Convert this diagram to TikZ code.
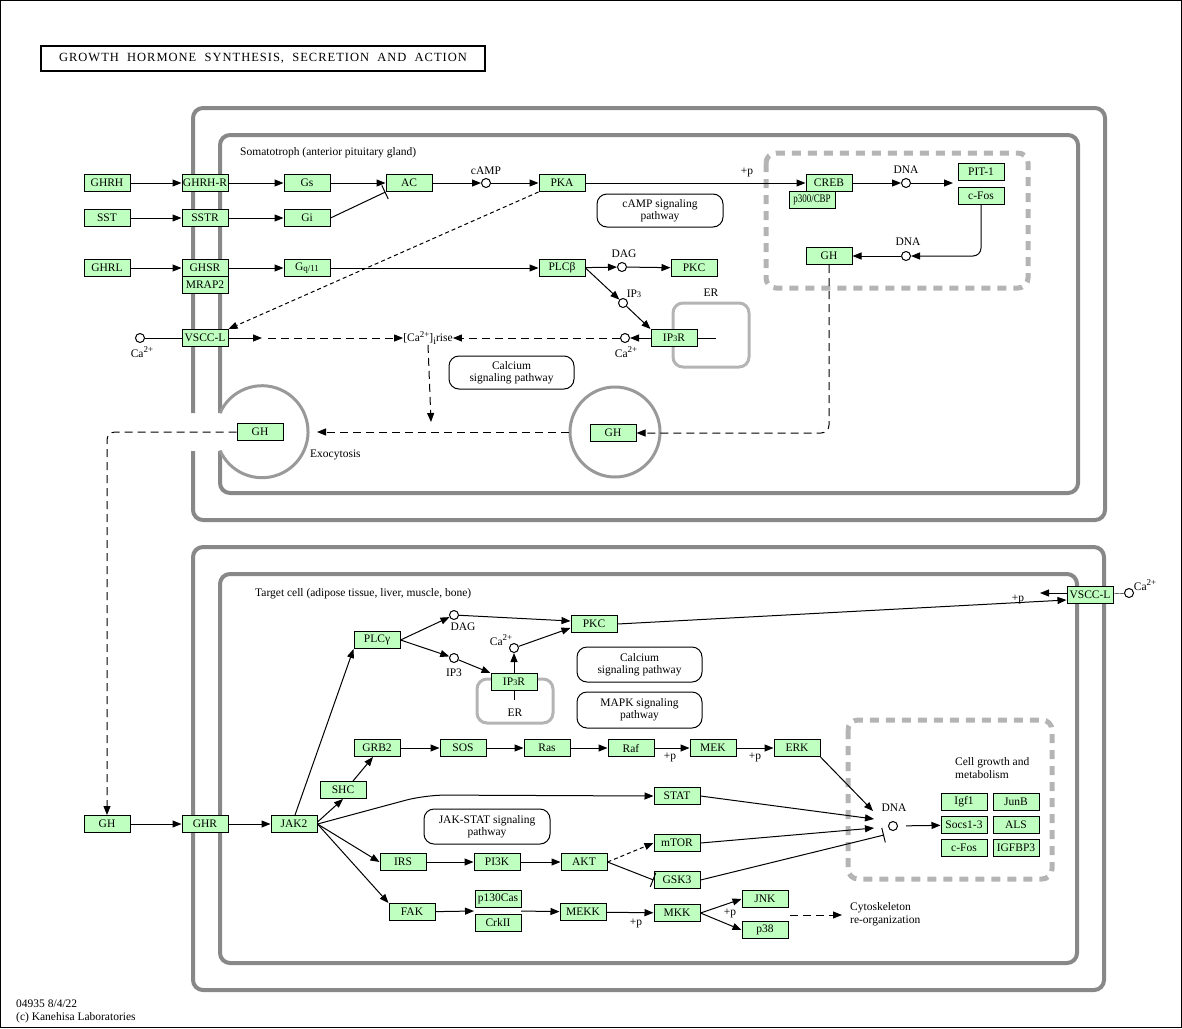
\documentclass[tikz,border=0pt]{standalone}
\usepackage{fontspec}
\setmainfont{Liberation Serif}
\usetikzlibrary{arrows.meta,shapes.geometric}
\definecolor{kgreen}{HTML}{BFFFBF}
\definecolor{membc}{HTML}{888888}
\definecolor{vesc}{HTML}{999999}
\definecolor{ergray}{HTML}{B4B4B4}
\newcommand{\sthree}{{\fontsize{8.5}{9}\selectfont 3}}
\newcommand{\suptwo}{\raisebox{4.5pt}{\fontsize{9}{9}\selectfont 2+}}
\newcommand{\catwo}{Ca\suptwo}
\begin{document}
\begin{tikzpicture}[x=1pt,y=-1pt,
  gene/.style={draw, fill=kgreen, minimum width=46pt, minimum height=17pt, inner sep=0pt, line width=1pt, font=\fontsize{11.5}{12}\selectfont},
  cpd/.style={circle, draw, fill=white, minimum size=9pt, inner sep=0pt, line width=1pt},
  lbl/.style={inner sep=0pt, font=\fontsize{11.5}{13}\selectfont},
  pw/.style={draw, rounded corners=10pt, align=center, inner sep=0pt, line width=1pt, font=\fontsize{11.5}{12}\selectfont},
  membr/.style={draw=membc, line width=4pt},
  act/.style={-{Triangle[length=9pt,width=7pt]}, line width=1pt},
  inh/.style={-{Bar[width=15pt]}, line width=1pt},
  dsh/.style={dash pattern=on 8pt off 5pt},
  fdsh/.style={dash pattern=on 4pt off 3pt},
  nuc/.style={draw=ergray, line width=5pt, dash pattern=on 9pt off 7pt, rounded corners=10pt},
  erbox/.style={draw=ergray, line width=3pt, rounded corners=10pt},
]
\useasboundingbox (0,0) rectangle (1182,1028);
\draw[line width=1pt] (0.5,0.5) rectangle (1181.5,1027.5);

% title
\node[draw, line width=1.5pt, minimum width=444pt, minimum height=25pt, inner sep=0pt,
  font=\fontsize{12.5}{13}\selectfont\addfontfeature{LetterSpace=8}] (title) at (263,58.5)
  {GROWTH\ \ HORMONE\ \ SYNTHESIS,\ \ SECRETION\ \ AND\ \ ACTION};

% ===== top cell membranes =====
\draw[membr, rounded corners=10pt] (193,413) -- (193,108) -- (1105,108) -- (1105,520) -- (193,520) -- (193,451);
\draw[membr, rounded corners=10pt] (220,413) -- (220,135) -- (1078,135) -- (1078,493) -- (220,493) -- (220,451);
\draw[draw=vesc, line width=3pt] (220,413) arc[start angle=156, end angle=-156, radius=46pt];
\node[circle, draw=vesc, line width=3pt, minimum size=90pt, inner sep=0pt] (ves) at (615,432) {};
\draw[erbox] (673,303) rectangle (749,367);
\node[lbl] (erl1) at (711,293) {ER};
\draw[nuc] (766,153) rectangle (1028,288);

\node[lbl, anchor=west] (soma) at (240,153) {Somatotroph (anterior pituitary gland)};

% pathway boxes
\node[pw, minimum width=126pt, minimum height=33pt] (cAMPpw) at (660,210.5) {cAMP signaling\\pathway};
\node[pw, minimum width=125pt, minimum height=33pt] (Capw1) at (511.5,372.5) {Calcium\\signaling pathway};

% nodes row 1
\node[gene] (GHRH) at (107,183) {GHRH};
\node[gene] (GHRHR) at (205,183) {GHRH-R};
\node[gene] (Gs) at (307,183) {Gs};
\node[gene] (AC) at (409,183) {AC};
\node[cpd] (cAMP) at (486,183) {};
\node[lbl] (cAMPl) at (486,171) {cAMP};
\node[gene] (PKA) at (562,183) {PKA};
\node[lbl] (p1) at (747,172) {+p};
\node[gene] (CREB) at (829,183) {CREB};
\node[gene] (p300) at (812,200) {\scalebox{0.78}[1]{p300/CBP}};
\node[cpd] (DNA1) at (906,183) {};
\node[lbl] (DNA1l) at (906,170) {DNA};
\node[gene] (PIT1) at (981,172) {PIT-1};
\node[gene] (cFos1) at (981,196) {c-Fos};
\coordinate (tfin) at (953,183);
\node[gene] (GHn) at (829,256) {GH};
\node[cpd] (DNA2) at (906,256) {};
\node[lbl] (DNA2l) at (908,242) {DNA};

% row 2
\node[gene] (SST) at (107,218) {SST};
\node[gene] (SSTR) at (205,218) {SSTR};
\node[gene] (Gi) at (307,218) {Gi};

% row 3
\node[gene] (GHRL) at (107,268) {GHRL};
\node[gene] (GHSR) at (205,268) {GHSR};
\node[gene] (MRAP2) at (205,285) {MRAP2};
\node[gene] (Gq) at (307,268) {G\raisebox{-1.5pt}{\fontsize{9}{9}\selectfont q/11}};
\node[gene] (PLCb) at (562,268) {PLCβ};
\node[cpd] (DAG1) at (622,267) {};
\node[lbl] (DAG1l) at (624,254) {DAG};
\node[gene] (PKC1) at (694,268) {PKC};
\node[cpd] (IP31) at (623,303) {};
\node[lbl] (IP31l) at (634,294) {IP\sthree};
\node[gene] (IP3R1) at (674,338) {IP\sthree R};
\coordinate (erin1) at (716,338);
\node[cpd] (Ca1) at (625,338) {};
\node[lbl] (Ca1l) at (626,352) {\catwo};
\node[lbl] (Carise) at (428,338) {[Ca\suptwo]\raisebox{-3pt}{\fontsize{10}{10}\selectfont i}rise};
\node[gene] (VSCC1) at (205,338) {VSCC-L};
\node[cpd] (Ca0) at (140,338) {};
\node[lbl] (Ca0l) at (142,352) {\catwo};
\coordinate (vs1) at (262,338);
\coordinate (vs2) at (268,338);
\coordinate (riseout) at (431,422);

\node[gene] (GHv) at (613,433) {GH};
\node[gene] (GHx) at (260,432) {GH};
\coordinate (exo) at (317,432);
\node[lbl, anchor=west] (exol) at (310,455) {Exocytosis};

% connectors top
\draw[act] (GHRH) -- (GHRHR);
\draw[act] (GHRHR) -- (Gs);
\draw[act] (Gs) -- (AC);
\draw[act] (AC) -- (cAMP);
\draw[act] (cAMP) -- (PKA);
\draw[act] (PKA) -- (CREB);
\draw[act] (CREB) -- (DNA1);
\draw[act] (DNA1) -- (tfin);
\draw[act, rounded corners=8pt] (cFos1.south) -- (cFos1.south |- DNA2) -- (DNA2);
\draw[act] (DNA2) -- (GHn);
\draw[act, dsh, rounded corners=8pt] (GHn.south) -- (GHn.south |- GHv) -- (GHv);
\draw[act] (SST) -- (SSTR);
\draw[act] (SSTR) -- (Gi);
\draw[inh] (Gi.east) -- (AC.south west);
\draw[act] (GHRL) -- (GHSR);
\draw[act] (GHSR) -- (Gq);
\draw[act] (Gq) -- (PLCb);
\draw[act] (PLCb) -- (DAG1);
\draw[act] (DAG1) -- (PKC1);
\draw[act] (PLCb.east) -- (IP31);
\draw[act] (IP31) -- (IP3R1.north west);
\draw (IP3R1.east) -- (erin1);
\draw[act] (IP3R1) -- (Ca1);
\draw[act, dsh] (Ca1) -- (Carise);
\draw (Ca0) -- (VSCC1);
\draw[act] (VSCC1) -- (vs1);
\draw[act, dsh] (vs2) -- (Carise);
\draw[act, fdsh] (PKA.south west) -- (VSCC1.north east);
\draw[act, dsh] (Carise.south) -- (riseout);
\draw[act, dsh] (ves.west) -- (exo);

% ===== bottom cell =====
\draw[membr, rounded corners=10pt] (193,547) rectangle (1104,990);
\draw[membr, rounded corners=10pt] (220,574) rectangle (1077,963);
\draw[erbox] (477,679) rectangle (553,723);
\draw[nuc] (848,720) rectangle (1052,879);

\node[lbl, anchor=west] (targ) at (255,594) {Target cell (adipose tissue, liver, muscle, bone)};

\node[pw, minimum width=125pt, minimum height=35pt] (Capw2) at (639.5,664.5) {Calcium\\signaling pathway};
\node[pw, minimum width=125pt, minimum height=36pt] (MAPKpw) at (639.5,710) {MAPK signaling\\pathway};
\node[pw, minimum width=126pt, minimum height=35pt] (JAKpw) at (487,826.5) {JAK-STAT signaling\\pathway};

\node[gene] (GHb) at (107,824) {GH};
\node[gene] (GHR) at (205,824) {GHR};
\node[gene] (JAK2) at (294,824) {JAK2};
\node[gene] (PLCg) at (377,640) {PLCγ};
\node[cpd] (DAG2) at (454,615) {};
\node[lbl] (DAG2l) at (463,627) {DAG};
\node[cpd] (IP32) at (454,658) {};
\node[lbl] (IP32l) at (454,673) {IP3};
\node[gene] (PKC2) at (594,624) {PKC};
\node[cpd] (Ca2) at (514,648) {};
\node[lbl] (Ca2l) at (501,640) {\catwo};
\node[gene] (IP3R2) at (514,682) {IP\sthree R};
\coordinate (erin2) at (514,700);
\node[lbl] (erl2) at (515,713) {ER};
\node[gene] (VSCC2) at (1090,595) {VSCC-L};
\node[cpd] (Ca3) at (1129,593) {};
\node[lbl] (Ca3l) at (1145,585) {\catwo};
\node[lbl] (p2) at (1018,599) {+p};
\coordinate (vsout) at (1040,593);

\node[gene] (GRB2) at (377,748) {GRB2};
\node[gene] (SOS) at (463,748) {SOS};
\node[gene] (Ras) at (547,748) {Ras};
\node[gene] (Raf) at (631,748) {Raf};
\node[gene] (MEK) at (713,748) {MEK};
\node[gene] (ERK) at (797,748) {ERK};
\node[lbl] (p3) at (670,757) {+p};
\node[lbl] (p4) at (755,757) {+p};
\node[gene] (SHC) at (343,790) {SHC};
\node[gene] (STAT) at (677,796) {STAT};
\node[gene] (mTOR) at (677,843) {mTOR};
\node[gene] (GSK3) at (677,880) {GSK3};
\node[gene] (IRS) at (403,862) {IRS};
\node[gene] (PI3K) at (497,862) {PI3K};
\node[gene] (AKT) at (584,862) {AKT};
\node[gene] (FAK) at (412,912) {FAK};
\node[gene] (p130) at (498,899) {p130Cas};
\node[gene] (CrkII) at (498,923) {CrkII};
\coordinate (fakin) at (474,911);
\coordinate (grpout) at (521,911);
\node[gene] (MEKK) at (583,912) {MEKK};
\node[gene] (MKK) at (677,913) {MKK};
\node[lbl] (p5) at (636,923) {+p};
\node[lbl] (p6) at (730,913) {+p};
\node[gene] (JNK) at (765,899) {JNK};
\node[gene] (p38) at (765,930) {p38};
\coordinate (cy1) at (790,915);
\coordinate (cy2) at (842,915);
\node[lbl, anchor=west, align=left] (cyto) at (850,914) {Cytoskeleton\\re-organization};

\node[cpd] (DNA3) at (893,826) {};
\node[lbl] (DNA3l) at (894,808) {DNA};
\coordinate (dnA) at (873,811);
\coordinate (dnB) at (874,819);
\coordinate (dnC) at (874,828);
\coordinate (dnD) at (884,835);
\node[lbl, anchor=north west, align=left] (cgm) at (955,757) {Cell growth and\\metabolism};
\node[gene] (Igf1) at (964,802) {Igf1};
\node[gene] (JunB) at (1016,802) {JunB};
\node[gene] (Socs) at (964,825) {Socs1-3};
\node[gene] (ALS) at (1016,825) {ALS};
\node[gene] (cFos2) at (964,848) {c-Fos};
\node[gene] (IGFBP3) at (1016,848) {IGFBP3};

\node[lbl, anchor=west, align=left] (foot) at (16,1011) {04935 8/4/22\\(c) Kanehisa Laboratories};

% connectors bottom
\draw[act, dsh, rounded corners=8pt] (GHx.west) -- (GHx.west -| GHb) -- (GHb.north);
\draw[act] (GHb) -- (GHR);
\draw[act] (GHR) -- (JAK2);
\draw[act] ([xshift=1pt]JAK2.north) -- (PLCg.south west);
\draw[act] (PLCg.east) -- (DAG2);
\draw[act] (PLCg.east) -- (IP32);
\draw[act] (IP32) -- (IP3R2.north west);
\draw[act] (IP3R2) -- (Ca2);
\draw (IP3R2.south) -- (erin2);
\draw[act] (DAG2) -- ([yshift=3pt]PKC2.west);
\draw[act] (Ca2) -- ([yshift=-4pt]PKC2.west);
\draw[act] (PKC2.east) -- ([yshift=-5pt]VSCC2.west);
\draw[act] ([yshift=2pt]VSCC2.west) -- (vsout);
\draw (VSCC2) -- (Ca3);
\draw[act] ([yshift=2pt]JAK2.east) -- (SHC.south);
\draw[act] ([xshift=10pt]SHC.north) -- ([xshift=-4pt]GRB2.south);
\draw[act] (GRB2) -- (SOS);
\draw[act] (SOS) -- (Ras);
\draw[act] (Ras) -- (Raf);
\draw[act] (Raf) -- (MEK);
\draw[act] (MEK) -- (ERK);
\draw[act, rounded corners=20pt] (JAK2.east) -- (425,795) -- (STAT.west);
\draw[act] (JAK2.east) -- (IRS.west);
\draw[act] (JAK2.east) -- (FAK.north west);
\draw[act] (IRS) -- (PI3K);
\draw[act] (PI3K) -- (AKT);
\draw[act, fdsh] (AKT.east) -- (mTOR.west);
\draw[inh] (AKT.east) -- (GSK3.west);
\draw[act] (FAK) -- (fakin);
\draw[act] (grpout) -- (MEKK);
\draw[act] (MEKK) -- (MKK);
\draw[act] (MKK.east) -- (JNK.west);
\draw[act] (MKK.east) -- (p38.west);
\draw[act, dsh] (cy1) -- (cy2);
\draw[act] (ERK.south east) -- (dnA);
\draw[act] (STAT.east) -- (dnB);
\draw[act] (mTOR.east) -- (dnC);
\draw[inh] (GSK3.east) -- (dnD);
\draw[act, shorten <=8pt] (DNA3) -- (Socs);
\end{tikzpicture}
\end{document}
